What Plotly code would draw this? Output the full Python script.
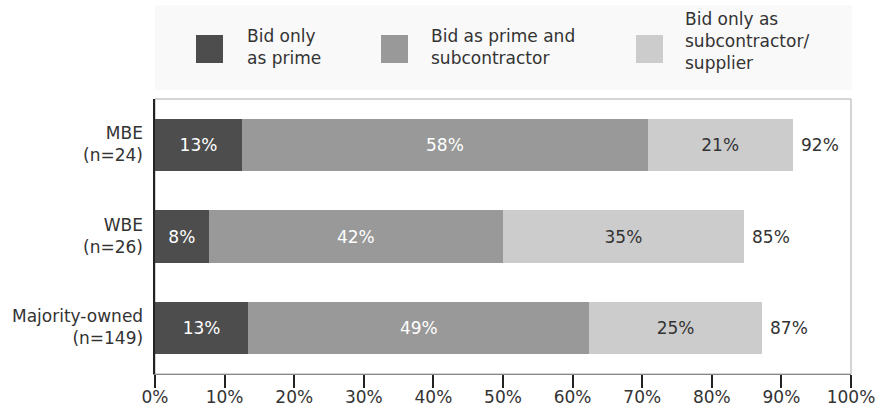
import plotly.graph_objects as go

# Share of firms by bidding role, percent of respondents in each group
groups = ["MBE", "WBE", "Majority-owned"]
group_n = ["(n=24)", "(n=26)", "(n=149)"]
series_names = [
    ["Bid only", "as prime"],
    ["Bid as prime and", "subcontractor"],
    ["Bid only as", "subcontractor/", "supplier"],
]
prime_only = [12.5, 7.7, 13.4]
prime_and_sub = [58.3, 42.3, 49.0]
sub_only = [20.8, 34.6, 24.8]

series_values = [prime_only, prime_and_sub, sub_only]
colors = ["#4d4d4d", "#999999", "#cccccc"]
text_colors = ["#ffffff", "#ffffff", "#333333"]

FONT = "DejaVu Sans"
TXT = "#333333"

fig = go.Figure()
ypos = list(range(len(groups)))
for vals, col, tcol, name in zip(series_values, colors, text_colors, series_names):
    fig.add_trace(go.Bar(
        y=ypos, x=vals, orientation="h", name=" ".join(name),
        marker=dict(color=col, line=dict(width=0)),
        width=0.57,
        texttemplate="%{x:.0f}%", textposition="inside",
        insidetextanchor="middle", constraintext="none",
        textfont=dict(family=FONT, size=17, color=tcol),
        showlegend=False, hoverinfo="skip",
    ))

annotations = []
# totals to the right of each bar
totals = [sum(v) for v in zip(*series_values)]
for i, t in enumerate(totals):
    annotations.append(dict(
        x=t, y=i, xref="x", yref="y", text=f"{t:.0f}%", showarrow=False,
        xanchor="left", yanchor="middle", xshift=6,
        font=dict(family=FONT, size=17, color=TXT)))

# two-line category labels on the left
for i, (g, n) in enumerate(zip(groups, group_n)):
    annotations.append(dict(
        x=0, y=i, xref="paper", yref="y", text=f"{g}<br>{n}", showarrow=False,
        xanchor="right", yanchor="middle", align="right", xshift=-10, yshift=1,
        font=dict(family=FONT, size=17, color=TXT)))

# legend panel above the plot
PLOT_TOP, PLOT_H, PLOT_L, PLOT_W = 99, 275, 155, 696


def py(p):
    return (PLOT_TOP + PLOT_H - p) / PLOT_H


def px(p):
    return (p - PLOT_L) / PLOT_W


shapes = [
    dict(type="rect", xref="paper", yref="paper", x0=0, x1=px(852),
         y0=py(90), y1=py(5), fillcolor="#f9f9f9", line=dict(width=0),
         layer="below"),
    dict(type="rect", xref="paper", yref="paper", x0=0, x1=1, y0=0, y1=1,
         line=dict(color="#aaaaaa", width=1), layer="below"),
]

swatch_x = [196, 381, 636]
label_x = [245, 429, 683]
for sx, lx, col, name in zip(swatch_x, label_x, colors, series_names):
    shapes.append(dict(type="rect", xref="paper", yref="paper",
                       x0=px(sx), x1=px(sx + 27), y0=py(63), y1=py(35),
                       fillcolor=col, line=dict(width=0)))
    annotations.append(dict(
        x=px(lx), y=py(47 if len(name) == 2 else 41), xref="paper",
        yref="paper", text="<br>".join(name), showarrow=False,
        xanchor="left", yanchor="middle", align="left",
        font=dict(family=FONT, size=17, color=TXT)))

fig.update_layout(
    width=876, height=413,
    margin=dict(l=155, r=25, t=99, b=39, autoexpand=False),
    barmode="stack",
    paper_bgcolor="white", plot_bgcolor="white",
    font=dict(family=FONT, size=17, color=TXT),
    shapes=shapes, annotations=annotations,
    uniformtext=dict(minsize=17, mode="show"),
)
fig.update_xaxes(
    range=[0, 100], dtick=10, ticksuffix="%", showgrid=False, zeroline=False,
    showline=True, linecolor="#888888", linewidth=1, automargin=False,
    ticks="outside", ticklen=13, tickcolor="#222222", tickwidth=1.5,
    ticklabelstandoff=-5,
    tickfont=dict(family=FONT, size=17, color=TXT),
)
fig.update_yaxes(
    range=[2.5, -0.5], showticklabels=False, showgrid=False, zeroline=False,
    showline=True, linecolor="#222222", linewidth=2, ticks="", automargin=False,
)

fig.write_html("out.html")
